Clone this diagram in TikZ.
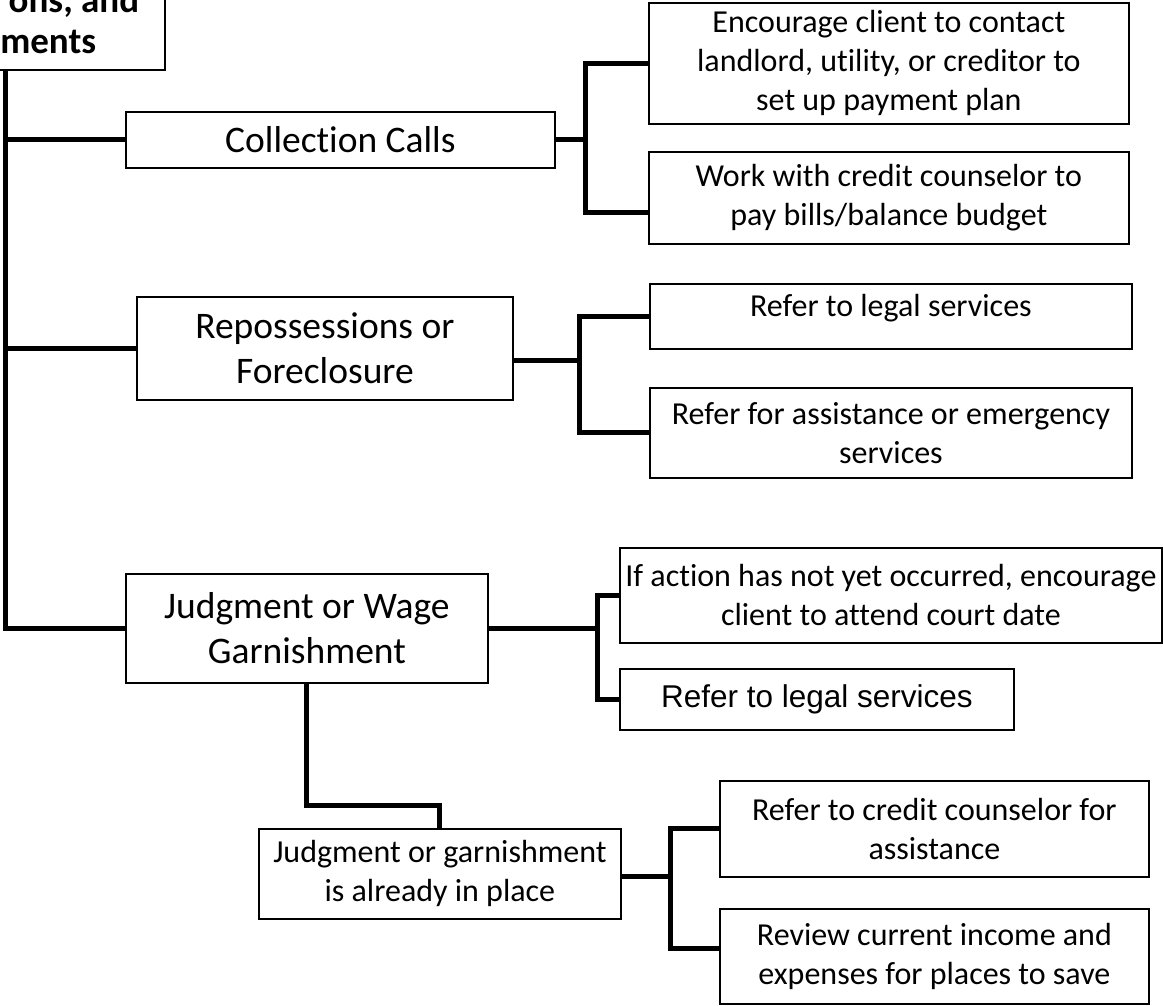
\documentclass[tikz,border=0pt]{standalone}
\usepackage{fontspec}
\setmainfont{Carlito}[Ligatures=CommonOff]
\newfontfamily\arialfont{Liberation Sans}
\begin{document}
\begin{tikzpicture}[x=1pt,y=-1pt,
  box/.style={draw=black, line width=1.8pt, fill=white, align=center, inner sep=0pt, anchor=north west},
  leaf/.style={box, font=\fontsize{32}{39}\selectfont},
  midbox/.style={box, font=\fontsize{37.5}{45}\selectfont},
  conn/.style={draw=black, line width=5pt, line join=miter}]
\path[use as bounding box] (0,0) rectangle (1163,1005);
\fill[white] (0,0) rectangle (1163,1005);
\clip (0,0) rectangle (1163,1005);

% nodes
\node[box, anchor=south east, align=right, inner xsep=26pt, inner ysep=16pt,
      font=\bfseries\fontsize{37}{41}\selectfont] (root) at (166,71)
      {ons, and\\ments\makebox[43pt]{}};
\node[midbox, minimum width=429pt, minimum height=56pt] (cc) at (125,111) {Collection Calls};
\node[leaf, minimum width=480pt, minimum height=121pt] (E) at (648,2)
      {Encourage client to contact\\landlord, utility, or creditor to\\set up payment plan};
\node[leaf, minimum width=480pt, minimum height=92pt] (W) at (648,151)
      {Work with credit counselor to\\pay bills/balance budget};
\node[midbox, minimum width=376pt, minimum height=103pt] (rep) at (136,296)
      {Repossessions or\\Foreclosure};
\node[leaf, minimum width=482pt, minimum height=65pt, text height=15pt, text depth=15pt] (L1) at (649,283)
      {Refer to legal services};
\node[leaf, minimum width=482pt, minimum height=90pt] (A) at (649,387)
      {Refer for assistance or emergency\\services};
\node[midbox, minimum width=362pt, minimum height=109pt] (jud) at (125,573)
      {Judgment or Wage\\Garnishment};
\node[leaf, minimum width=542pt, minimum height=95pt] (I) at (619,547)
      {If action has not yet occurred, encourage\\client to attend court date};
\node[box, font=\arialfont\fontsize{31.5}{38}\selectfont, minimum width=394pt, minimum height=61pt] (L2) at (619,668)
      {Refer to legal services};
\node[leaf, minimum width=362pt, minimum height=90pt] (G) at (258,828)
      {Judgment or garnishment\\is already in place};
\node[leaf, minimum width=429pt, minimum height=96pt] (C) at (719,780)
      {Refer to credit counselor for\\assistance};
\node[leaf, minimum width=429pt, minimum height=95pt] (R) at (719,908)
      {Review current income and\\expenses for places to save};

% helper coordinates
\coordinate (tk) at (5,0);
\coordinate (s1) at (585,0);
\coordinate (s2) at (579,0);
\coordinate (s3) at (597,0);
\coordinate (s4) at (670,0);
\coordinate (jg) at (0,805);
\coordinate (Win) at ([yshift=-15pt]W.west);
\coordinate (repout) at ([yshift=-12pt]rep.east);
\coordinate (Gout) at ([yshift=-3pt]G.east);
\coordinate (Rin) at ([yshift=7.5pt]R.west);

% trunk and first-level branches
\draw[conn] (root.south -| tk) |- (jud.west);
\draw[conn] (tk |- cc.west) -- (cc.west);
\draw[conn] (tk |- rep.west) -- (rep.west);

% Collection Calls
\draw[conn] (cc.east) -- (cc.east -| s1);
\draw[conn] (E.west) -| (s1 |- Win) -- (Win);

% Repossessions
\draw[conn] (repout) -- (repout -| s2);
\draw[conn] (L1.west) -| (s2 |- A.west) -- (A.west);

% Judgment
\draw[conn] (jud.east) -- (jud.east -| s3);
\draw[conn] (I.west) -| (s3 |- L2.west) -- (L2.west);
\draw[conn] (jud.south) |- (jg -| G.north) -- (G.north);

% Already in place
\draw[conn] (Gout) -- (Gout -| s4);
\draw[conn] (C.west) -| (s4 |- Rin) -- (Rin);
\end{tikzpicture}
\end{document}
